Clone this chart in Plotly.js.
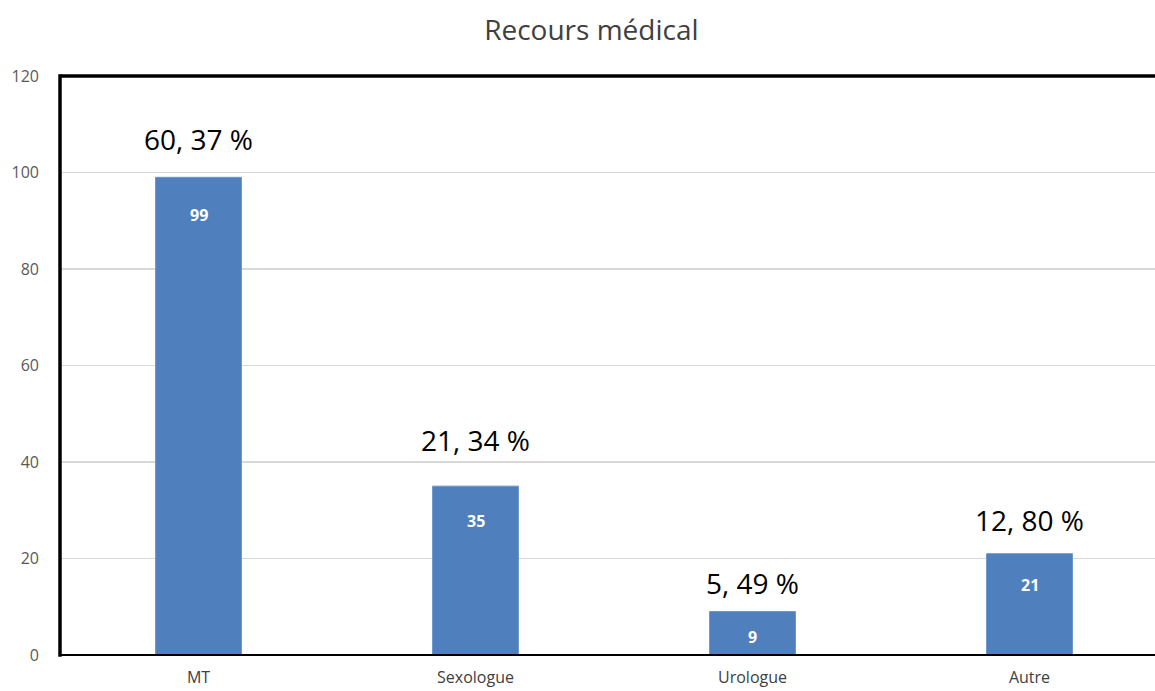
<!DOCTYPE html>
<html>
<head>
<meta charset="utf-8">
<script src="https://cdn.plot.ly/plotly-3.0.1.min.js"></script>
<style>html,body{margin:0;padding:0;background:#fff;}#chart{width:1155px;height:691px;}</style>
</head>
<body>
<div id="chart"></div>
<script>
const categories = ["MT", "Sexologue", "Urologue", "Autre"];
const counts = [99, 35, 9, 21];
const percentLabels = ["60, 37 %", "21, 34 %", "5, 49 %", "12, 80 %"];
const yTicks = [0, 20, 40, 60, 80, 100, 120];

const FONT = "'Open Sans', Lato, sans-serif";
const pctShift = [38, 46, 29, 34];
const innerShift = [-38, -35, -25, -31];

const annotations = [];
categories.forEach((c, i) => {
  annotations.push({
    x: c, y: counts[i], xref: "x", yref: "y",
    text: percentLabels[i], showarrow: false,
    yshift: pctShift[i], yanchor: "middle",
    font: {family: FONT, size: 28, color: "#000000"}
  });
  annotations.push({
    x: c, y: counts[i], xref: "x", yref: "y",
    text: "<b>" + counts[i] + "</b>", showarrow: false,
    yshift: innerShift[i], yanchor: "middle",
    font: {family: FONT, size: 16, color: "#ffffff"}
  });
});

const data = [{
  type: "bar",
  x: categories,
  y: counts,
  width: 0.31,
  marker: {color: "#4f7fbc", line: {color: "#6b95c9", width: 1}},
  hoverinfo: "none"
}];

const layout = {
  width: 1155, height: 691,
  margin: {l: 60, r: 0, t: 76, b: 36, pad: 0},
  paper_bgcolor: "#ffffff", plot_bgcolor: "#ffffff",
  showlegend: false,
  title: {text: "Recours médical", x: 0.512, xanchor: "center", y: 0.957, yanchor: "middle",
          font: {family: FONT, size: 28, color: "#404040"}},
  xaxis: {
    type: "category", range: [-0.5, 3.453], showgrid: false, zeroline: false,
    showline: false, ticks: "",
    tickfont: {family: FONT, size: 16, color: "#404040"},
    ticklabelstandoff: 11, fixedrange: true
  },
  yaxis: {
    range: [0, 120], tickvals: yTicks, ticktext: yTicks.map(String),
    showgrid: true, gridcolor: "#d9d9d9", gridwidth: 1.5,
    zeroline: false, showline: false, ticks: "",
    tickfont: {family: FONT, size: 16, color: "#595959"},
    ticklabelstandoff: 20, fixedrange: true
  },
  annotations: annotations,
  shapes: [
    {type: "line", xref: "paper", yref: "paper", x0: 0, x1: 1.01, y0: 0, y1: 0, line: {color: "#000", width: 2}},
    {type: "line", xref: "paper", yref: "paper", x0: 0, x1: 0, y0: -0.003, y1: 1.003, line: {color: "#000", width: 3.5}},
    {type: "line", xref: "paper", yref: "paper", x0: 0, x1: 1.01, y0: 1, y1: 1, line: {color: "#000", width: 3.5}}
  ]
};

Plotly.newPlot("chart", data, layout, {displayModeBar: false, staticPlot: true});
</script>
</body>
</html>
